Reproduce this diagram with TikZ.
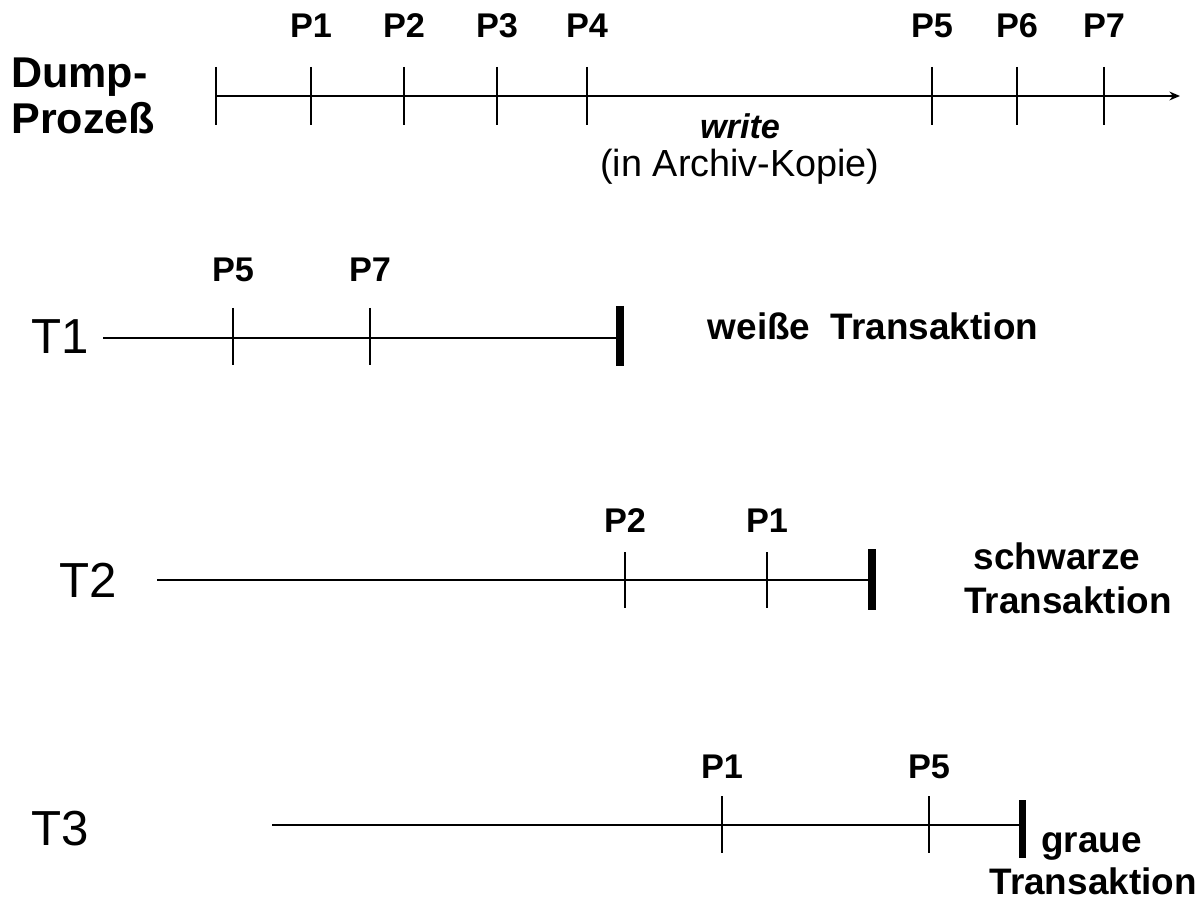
\documentclass[tikz,border=0pt]{standalone}
\usepackage{fontspec}
\setmainfont{Liberation Sans}
\usetikzlibrary{arrows.meta}

\tikzset{
  timeline/.style={line width=1.1pt},
  pagetick/.style={line width=1.1pt},
  endbar/.style={line width=4pt},
  plabel/.style={font=\fontsize{19.5}{22}\selectfont\bfseries, inner sep=0pt, anchor=base},
  tlabel/.style={font=\fontsize{28}{32}\selectfont, inner sep=0pt, anchor=base},
  dumplabel/.style={font=\fontsize{24.5}{28}\selectfont\bfseries, inner sep=0pt, anchor=base west},
  kindlabel/.style={font=\fontsize{21}{24}\selectfont\bfseries, inner sep=0pt}
}

\begin{document}
\begin{tikzpicture}[x=0.02cm, y=-0.02cm, >={Stealth[length=6pt,width=5pt]}]
\useasboundingbox (0,0) rectangle (1203,905);

% Dump-Prozess: pages written to the archive copy
\node[dumplabel] (dump) at (11,88) {Dump-};
\node[dumplabel] (proz) at (11,134) {Proze\ss};
\coordinate (d0) at (216,96);
\coordinate (d1) at (1180,96);
\draw[timeline, ->] (d0) -- (d1);
\draw[pagetick] (216,67) -- (216,125);
\foreach \x/\p in {311/P1, 404/P2, 497/P3, 587/P4, 932/P5, 1017/P6, 1104/P7} {
  \draw[pagetick] (\x,67) -- (\x,125);
  \node[plabel] (d\p) at (\x,38) {\p};
}
\node[font=\fontsize{21.5}{21.5}\selectfont, inner sep=0pt, align=center] (write) at (740,149)
  {{\fontsize{19.5}{21.5}\selectfont\bfseries\itshape write}\\(in Archiv-Kopie)};

% T1: weisse Transaktion
\node[tlabel] (t1) at (60,354) {T1};
\coordinate (a0) at (103,338);
\coordinate (a1) at (620,338);
\draw[timeline] (a0) -- (a1);
\foreach \x/\p in {233/P5, 370/P7} {
  \draw[pagetick] (\x,308) -- (\x,365);
  \node[plabel] (a\p) at (\x,282) {\p};
}
\draw[endbar] (620,306) -- (620,366);
\node[kindlabel, anchor=base] (weiss) at (873,339) {wei\ss e\ \ Transaktion};

% T2: schwarze Transaktion
\node[tlabel] (t2) at (88,597) {T2};
\coordinate (b0) at (157,580);
\coordinate (b1) at (872,580);
\draw[timeline] (b0) -- (b1);
\foreach \x/\p in {625/P2, 767/P1} {
  \draw[pagetick] (\x,552) -- (\x,608);
  \node[plabel] (b\p) at (\x,532) {\p};
}
\draw[endbar] (872,549) -- (872,610);
\node[kindlabel, anchor=base] (schwarz) at (1057,569) {schwarze};
\node[kindlabel, anchor=base] (schwarz2) at (1068,613) {Transaktion};

% T3: graue Transaktion
\node[tlabel] (t3) at (60,845) {T3};
\coordinate (c0) at (272,825);
\coordinate (c1) at (1022,825);
\draw[timeline] (c0) -- (c1);
\foreach \x/\p in {722/P1, 929/P5} {
  \draw[pagetick] (\x,796) -- (\x,853);
  \node[plabel] (c\p) at (\x,778) {\p};
}
\draw[endbar] (1022,800) -- (1022,858);
\node[kindlabel, anchor=base west] (grau) at (1041,852) {graue};
\node[kindlabel, anchor=base east] (grau2) at (1197,894) {Transaktion};

\end{tikzpicture}
\end{document}
